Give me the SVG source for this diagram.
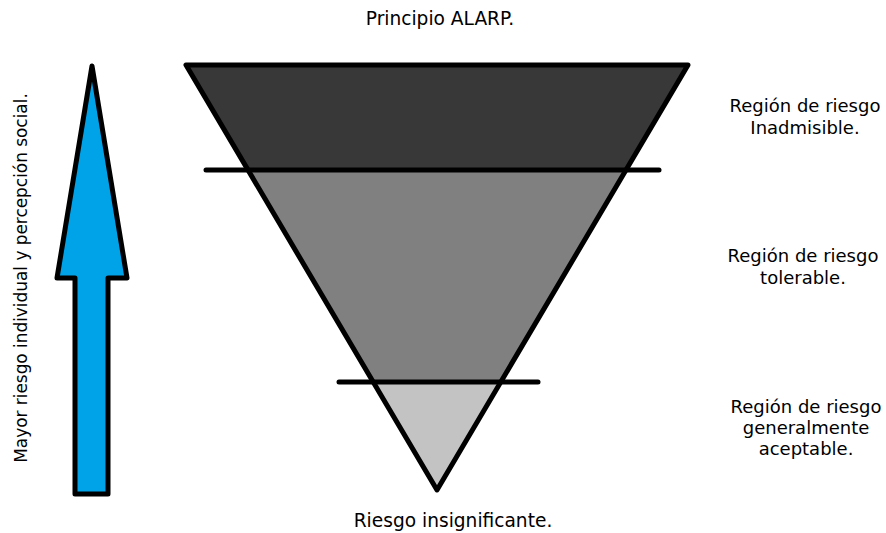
<svg xmlns="http://www.w3.org/2000/svg" width="886" height="533" viewBox="0 0 886 533">
<style>
text{font-family:"DejaVu Sans","Liberation Sans",sans-serif;font-size:18px;fill:#000;text-anchor:middle}
.big{font-size:18.6px}
.edge{stroke:#000;stroke-width:5;stroke-linejoin:round;stroke-linecap:round}
</style>
<rect width="886" height="533" fill="#fff"/>
<g id="title"><text class="big" x="440" y="25">Principio ALARP.</text></g>
<g id="arrow">
<polygon class="edge" points="92,66 127,278 108,278 108,494 75,494 75,278 57,278" fill="#00A2E8"/>
<text transform="translate(27,278) rotate(-90)" style="font-size:16.9px">Mayor riesgo individual y percepción social.</text>
</g>
<g id="region-inadmisible">
<polygon points="186,65 688,65 626,170 248,170" fill="#383838"/>
<text x="805" y="112">Región de riesgo</text>
<text x="805" y="134">Inadmisible.</text>
</g>
<g id="region-tolerable">
<polygon points="248,170 626,170 501,382 373,382" fill="#808080"/>
<text x="803" y="262">Región de riesgo</text>
<text x="803" y="284">tolerable.</text>
</g>
<g id="region-aceptable">
<polygon points="373,382 501,382 437,490" fill="#C3C3C3"/>
<text x="806" y="413">Región de riesgo</text>
<text x="806" y="434">generalmente</text>
<text x="806" y="455">aceptable.</text>
</g>
<g id="outline">
<polygon class="edge" points="186,65 688,65 437,490" fill="none"/>
<line class="edge" x1="206" y1="170" x2="659" y2="170"/>
<line class="edge" x1="339" y1="382" x2="538" y2="382"/>
</g>
<g id="bottom-label"><text class="big" x="453" y="527">Riesgo insignificante.</text></g>
</svg>
